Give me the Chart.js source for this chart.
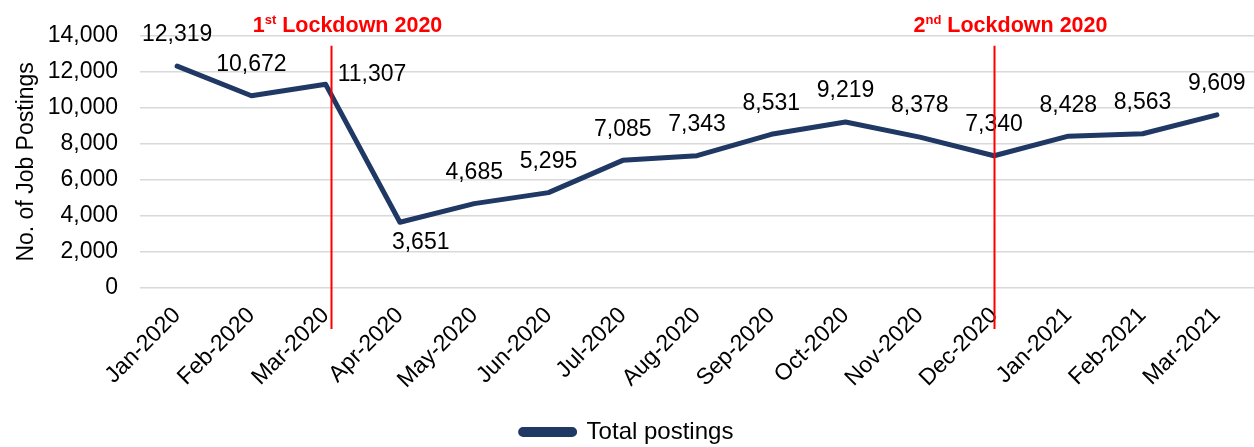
<!DOCTYPE html>
<html>
<head>
<meta charset="utf-8">
<script src="https://cdn.jsdelivr.net/npm/chart.js@4"></script>
<style>
  body { margin: 0; background: #fff; }
  #wrap { width: 1254px; height: 447px; }
</style>
</head>
<body>
<div id="wrap"><canvas id="chart" width="1254" height="447"></canvas></div>
<script>
const months = ['Jan-2020', 'Feb-2020', 'Mar-2020', 'Apr-2020', 'May-2020', 'Jun-2020', 'Jul-2020',
    'Aug-2020', 'Sep-2020', 'Oct-2020', 'Nov-2020', 'Dec-2020', 'Jan-2021', 'Feb-2021', 'Mar-2021'];
const postings = [12319, 10672, 11307, 3651, 4685, 5295, 7085, 7343, 8531, 9219, 8378, 7340, 8428, 8563, 9609];
const labelSide = ['above', 'above', 'right', 'below', 'above', 'above', 'above', 'above',
    'above', 'above', 'above', 'above', 'above', 'above', 'above'];
const lockdownNames = [['1', 'st'], ['2', 'nd']];
const lockdownAt = [2.07, 11];

const FONT = "'Liberation Sans', Arial, sans-serif";
const NAVY = '#203864';

// value labels next to each point
const valueLabels = {
    id: 'valueLabels',
    afterDatasetsDraw(chart) {
        const ctx = chart.ctx;
        const meta = chart.getDatasetMeta(0);
        ctx.save();
        ctx.font = '23px ' + FONT;
        ctx.fillStyle = '#000';
        ctx.textBaseline = 'middle';
        meta.data.forEach((pt, i) => {
            const txt = postings[i].toLocaleString('en-US');
            const side = labelSide[i];
            if (side === 'right') {
                ctx.textAlign = 'left';
                ctx.fillText(txt, pt.x + 12, pt.y - 10);
            } else if (side === 'below') {
                ctx.textAlign = 'left';
                ctx.fillText(txt, pt.x - 8, pt.y + 20);
            } else {
                ctx.textAlign = 'center';
                ctx.fillText(txt, pt.x, pt.y - 31);
            }
        });
        ctx.restore();
    }
};

// red vertical lockdown markers
const lockdowns = {
    id: 'lockdowns',
    afterDraw(chart) {
        const ctx = chart.ctx;
        const xs = chart.scales.x;
        const area = chart.chartArea;
        ctx.save();
        lockdownAt.forEach((idx, k) => {
            const x = Math.round(xs.getPixelForValue(idx)) + 0.5;
            ctx.strokeStyle = '#ff0000';
            ctx.lineWidth = 2;
            ctx.beginPath();
            ctx.moveTo(x, area.top + 10);
            ctx.lineTo(x, area.bottom + 41);
            ctx.stroke();

            const [num, sup] = lockdownNames[k];
            const rest = ' Lockdown 2020';
            ctx.fillStyle = '#ff0000';
            ctx.textBaseline = 'alphabetic';
            ctx.textAlign = 'left';
            ctx.font = 'bold 21.5px ' + FONT;
            const wNum = ctx.measureText(num).width;
            const wRest = ctx.measureText(rest).width;
            ctx.font = 'bold 13px ' + FONT;
            const wSup = ctx.measureText(sup).width;
            const total = wNum + wSup + wRest;
            let tx = x + 16 - total / 2;
            const base = 32;
            ctx.font = 'bold 21.5px ' + FONT;
            ctx.fillText(num, tx, base);
            tx += wNum;
            ctx.font = 'bold 13px ' + FONT;
            ctx.fillText(sup, tx, base - 8);
            tx += wSup;
            ctx.font = 'bold 21.5px ' + FONT;
            ctx.fillText(rest, tx, base);
        });
        ctx.restore();
    }
};

Chart.defaults.font.family = FONT;
Chart.defaults.font.size = 23;
Chart.defaults.color = '#000';

new Chart(document.getElementById('chart').getContext('2d'), {
    type: 'line',
    data: {
        labels: months,
        datasets: [{
            label: 'Total postings',
            data: postings,
            borderColor: NAVY,
            backgroundColor: NAVY,
            borderWidth: 5,
            pointRadius: 0,
            pointHoverRadius: 0,
            tension: 0,
            borderJoinStyle: 'round',
            borderCapStyle: 'round'
        }]
    },
    options: {
        responsive: false,
        animation: false,
        layout: { padding: { top: 33, right: 0, bottom: -7, left: 0 } },
        scales: {
            x: {
                offset: true,
                grid: { display: false, drawTicks: false },
                border: { display: false },
                ticks: { minRotation: 45, maxRotation: 45, padding: 14, font: { size: 23 } },
                afterFit(scale) { scale.height = 130; }
            },
            y: {
                min: 0,
                max: 14000,
                ticks: { stepSize: 2000, padding: 22, font: { size: 23 } },
                grid: { color: '#d9d9d9', lineWidth: 1.5, drawTicks: false },
                border: { display: false },
                title: {
                    display: true,
                    text: 'No. of Job Postings',
                    font: { size: 23 },
                    padding: { top: 13, bottom: 0 }
                },
                afterFit(scale) { scale.width = 140; }
            }
        },
        plugins: {
            legend: {
                position: 'bottom',
                labels: {
                    boxWidth: 54,
                    boxHeight: 5,
                    padding: 2,
                    useBorderRadius: true,
                    borderRadius: 2.5,
                    font: { size: 24 },
                    color: '#000'
                }
            },
            tooltip: { enabled: false }
        }
    },
    plugins: [valueLabels, lockdowns]
});
</script>
</body>
</html>
